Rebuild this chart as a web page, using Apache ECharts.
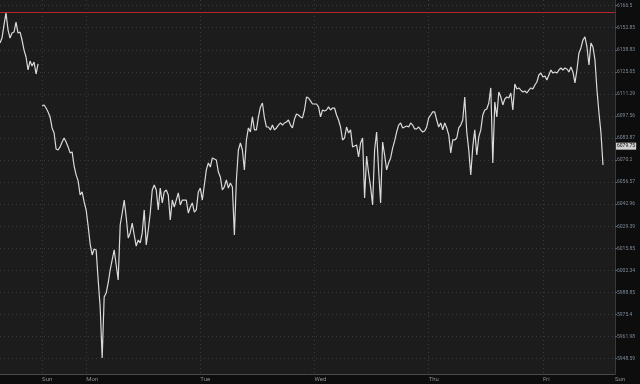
<!DOCTYPE html>
<html><head><meta charset="utf-8">
<script src="https://cdn.jsdelivr.net/npm/echarts@6/dist/echarts.min.js"></script>
<style>html,body{margin:0;padding:0;background:#0d0d0d}#c{width:640px;height:384px}</style>
</head><body><div id="c"></div>
<script>
const dayNames = ['Sun', 'Mon', 'Tue', 'Wed', 'Thu', 'Fri', 'Sun'];
const dayStart = [21, 43, 100, 157, 214, 271, 307];

const pricesFriPrev = [6143.5, 6146.5, 6154.6, 6162.0, 6151.5, 6146.5, 6149.6, 6150.2, 6156.4, 6149.6, 6150.2, 6145.3, 6139.1, 6134.8, 6126.8, 6132.3, 6129.3, 6131.7, 6124.3, 6130.5, null];
const pricesSun = [6104.6, 6105.2, 6103.3, 6100.9, 6097.8, 6091.0, 6087.9, 6078.0, 6077.4, 6079.3, 6082.3, 6084.8, 6082.3, 6079.3, 6075.6, 6076.2, 6067.5, 6062.0, 6058.3, 6049.6, 6051.5, 6045.3];
const pricesMon = [6040.4, 6030.5, 6019.4, 6012.6, 6016.3, 6015.7, 5997.2, 5980.5, 5949.0, 5986.7, 5989.1, 5995.3, 6003.3, 6009.5, 6015.7, 6006.4, 5997.2, 6031.1, 6038.5, 6046.5, 6036.0, 6023.1, 6026.2, 6032.3, 6024.9, 6018.1, 6021.8, 6020.0, 6026.2, 6040.4, 6018.8, 6028.0, 6038.5, 6052.7, 6055.8, 6052.7, 6040.4, 6053.9, 6044.7, 6051.5, 6052.7, 6049.6, 6034.2, 6046.5, 6042.2, 6046.5, 6050.9, 6043.5, 6046.5, 6046.5, 6046.5, 6038.5, 6042.2, 6044.7, 6039.1, 6040.4, 6051.5];
const pricesTue = [6053.9, 6046.5, 6055.8, 6065.1, 6069.4, 6066.9, 6072.5, 6071.8, 6071.2, 6063.8, 6060.7, 6052.7, 6054.6, 6058.9, 6053.9, 6057.0, 6054.6, 6024.9, 6058.9, 6077.4, 6081.7, 6077.4, 6065.1, 6083.6, 6091.0, 6088.5, 6097.8, 6089.8, 6089.8, 6097.8, 6104.0, 6106.4, 6097.2, 6091.6, 6091.6, 6089.8, 6092.8, 6089.8, 6091.0, 6092.8, 6094.1, 6092.8, 6094.1, 6094.7, 6095.9, 6092.8, 6091.0, 6096.5, 6099.6, 6099.0, 6097.8, 6097.2, 6102.1, 6110.1, 6109.5, 6107.7, 6105.8];
const pricesWed = [6105.8, 6105.8, 6104.0, 6097.8, 6102.1, 6101.5, 6102.1, 6104.0, 6102.1, 6103.3, 6103.3, 6099.0, 6095.9, 6091.6, 6083.6, 6084.8, 6091.6, 6087.9, 6089.8, 6079.3, 6079.9, 6080.5, 6073.1, 6081.7, 6084.8, 6047.8, 6073.7, 6063.2, 6054.6, 6043.5, 6077.4, 6088.5, 6065.1, 6044.7, 6082.3, 6074.3, 6065.1, 6069.4, 6072.5, 6078.6, 6083.0, 6088.5, 6092.8, 6094.1, 6091.0, 6091.6, 6092.2, 6091.6, 6094.1, 6092.8, 6090.4, 6090.4, 6091.6, 6089.8, 6088.5, 6089.1, 6091.6];
const pricesThu = [6097.2, 6099.0, 6100.9, 6100.9, 6095.9, 6091.6, 6094.1, 6089.8, 6094.1, 6091.0, 6086.7, 6075.6, 6083.6, 6083.6, 6084.8, 6091.0, 6092.8, 6095.9, 6110.1, 6088.5, 6077.4, 6062.0, 6079.3, 6089.8, 6074.3, 6085.4, 6089.8, 6099.0, 6102.1, 6102.7, 6106.4, 6115.7, 6069.4, 6107.0, 6097.8, 6113.2, 6110.1, 6105.2, 6108.9, 6110.1, 6109.5, 6112.6, 6102.1, 6118.1, 6115.1, 6115.7, 6114.4, 6113.2, 6113.8, 6112.6, 6114.4, 6115.7, 6115.1, 6117.5, 6119.4, 6123.7, 6124.9];
const pricesFri = [6122.5, 6123.1, 6120.6, 6123.7, 6126.8, 6124.9, 6125.6, 6124.9, 6126.8, 6128.0, 6126.8, 6128.0, 6127.4, 6125.6, 6128.6, 6125.6, 6118.8, 6126.8, 6137.3, 6140.4, 6145.3, 6147.2, 6141.0, 6129.9, 6143.5, 6141.0, 6133.0, 6114.4, 6100.2, 6087.9, 6068.1, null, null, null, null, null, null];

const yTickLabels = ['5948.59', '5961.98', '5975.4', '5988.85', '6002.34', '6015.85', '6029.39', '6042.96', '6056.57', '6070.2', '6083.87', '6097.56', '6111.29', '6125.05', '6138.83', '6152.85', '6166.5'];
const yMin = 5939.1;
const yMax = 6170.0;
const redLevel = 6162.4;
const lastPrice = 6079.75;
const lastPriceLabel = '6079.75';

const prices = [].concat(pricesFriPrev, pricesSun, pricesMon, pricesTue, pricesWed, pricesThu, pricesFri);
const categories = prices.map(() => '');
dayStart.forEach((idx, j) => { categories[idx] = dayNames[j]; });

// tick positions evenly spread between first and last label (as in the reference)
const lo = Number(yTickLabels[0]);
const hi = Number(yTickLabels[yTickLabels.length - 1]);
const tickValues = yTickLabels.map((_, k) => lo + k * (hi - lo) / (yTickLabels.length - 1));
const isDay = (i) => dayStart.indexOf(i) >= 0;

const chart = echarts.init(document.getElementById('c'), null, { renderer: 'canvas' });
chart.setOption({
  animation: false,
  backgroundColor: '#0d0d0d',
  grid: { left: 0, right: 25, top: 0, bottom: 10, show: true, backgroundColor: '#1c1c1c', borderWidth: 0, containLabel: false },
  xAxis: {
    type: 'category',
    data: categories,
    boundaryGap: false,
    axisLine: { show: true, lineStyle: { color: '#4a4a4a', width: 1 } },
    axisTick: { show: false },
    axisLabel: { interval: (i) => isDay(i), align: 'left', fontSize: 6, color: '#8c8c8c', margin: 2, fontFamily: 'Roboto' },
    splitLine: { show: true, interval: (i) => isDay(i), lineStyle: { color: '#3a3a3a', type: [1, 3], width: 1 } }
  },
  yAxis: {
    type: 'value',
    position: 'right',
    min: yMin,
    max: yMax,
    scale: true,
    axisLine: { show: true, lineStyle: { color: '#3a3a3a' } },
    axisTick: { show: true, length: 2, customValues: tickValues, lineStyle: { color: '#5a6470' } },
    axisLabel: {
      customValues: tickValues,
      fontSize: 5, color: '#7d8b98', margin: 2, fontFamily: 'Roboto',
      formatter: (v) => {
        let best = 0, d = Infinity;
        tickValues.forEach((t, k) => { if (Math.abs(t - v) < d) { d = Math.abs(t - v); best = k; } });
        return d < 0.01 ? yTickLabels[best] : '';
      }
    },
    splitLine: { show: true, lineStyle: { color: '#3a3a3a', type: [1, 3], width: 1 } }
  },
  series: [{
    type: 'line',
    data: prices,
    showSymbol: false,
    connectNulls: false,
    emphasis: { disabled: true },
    lineStyle: { color: '#dadada', width: 1.2 },
    markLine: {
      silent: true,
      symbol: 'none',
      animation: false,
      data: [
        { yAxis: redLevel, lineStyle: { color: '#b8262b', width: 1, type: 'solid' }, label: { show: false } },
        { yAxis: lastPrice, lineStyle: { color: 'rgba(0,0,0,0)', width: 1 },
          label: { show: true, position: 'end', formatter: lastPriceLabel, backgroundColor: '#d0d0d0', color: '#111', fontSize: 5, padding: [1, 1], distance: 1, fontFamily: 'Roboto', opacity: 1 } }
      ]
    }
  }]
});
</script>
</body></html>
